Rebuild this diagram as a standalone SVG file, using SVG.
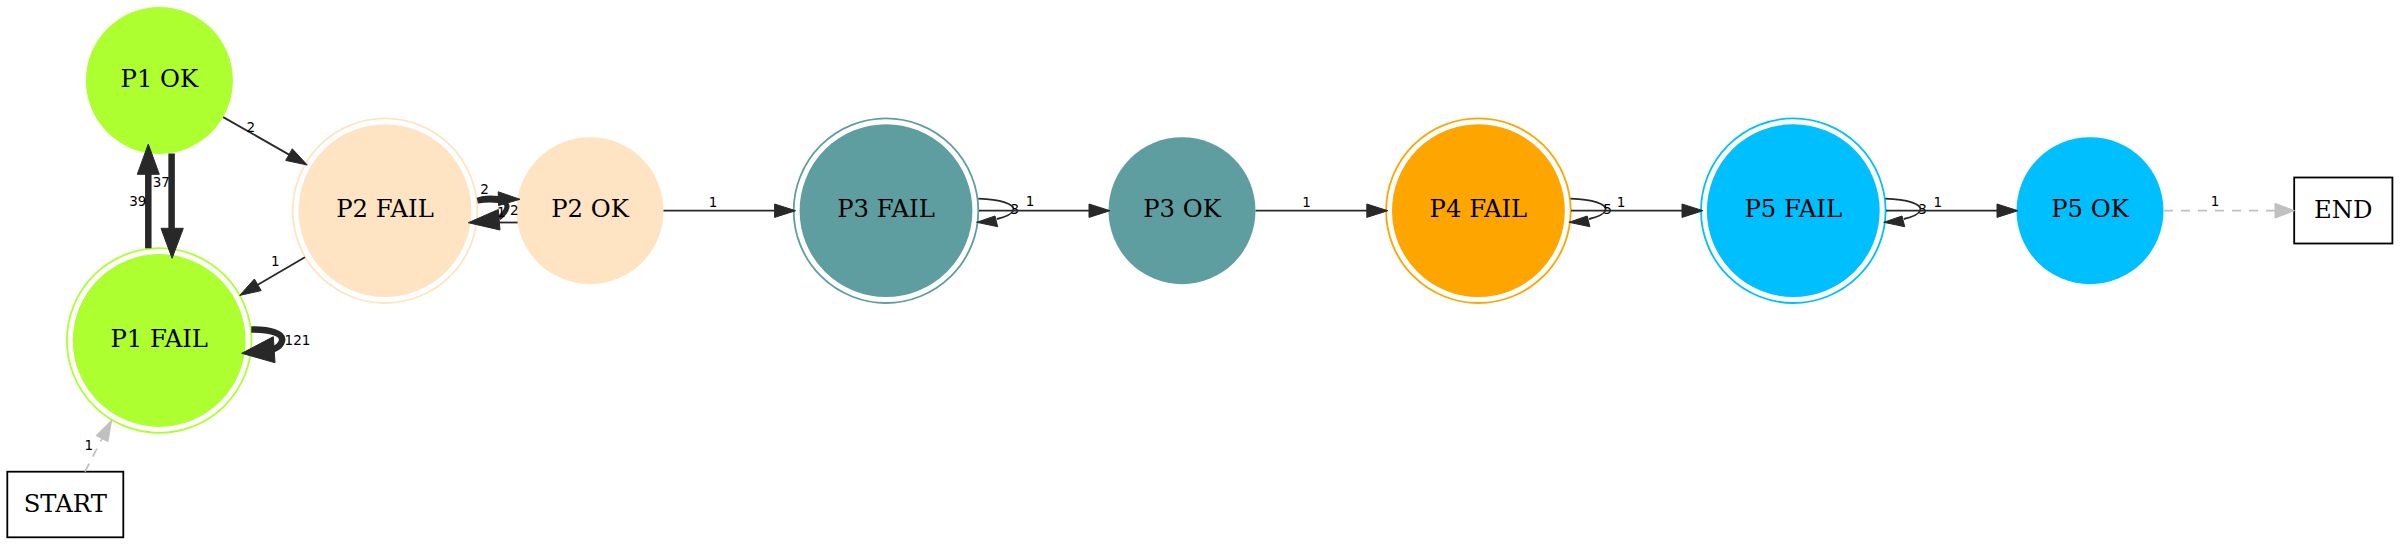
<svg xmlns="http://www.w3.org/2000/svg" width="2400" height="545" viewBox="0 0 2400 545">
<style>
.n{font-family:"DejaVu Serif","Liberation Serif",serif;font-size:24.3px;text-anchor:middle;fill:#000}
.e{font-family:"DejaVu Sans","Liberation Sans",sans-serif;font-size:13.5px;text-anchor:middle;fill:#000}
.ln{fill:none;stroke:#282828;stroke-width:1.8}
.th{fill:none;stroke:#282828;stroke-width:6.5}
.md{fill:none;stroke:#282828;stroke-width:5}
.ah{fill:#282828;stroke:#282828;stroke-width:1}
.gd{fill:none;stroke:#c0c0c0;stroke-width:1.8;stroke-dasharray:9,8}
.ga{fill:#c0c0c0;stroke:#c0c0c0;stroke-width:1}
.ring{fill:none;stroke-width:1.8}
.box{fill:#fff;stroke:#000;stroke-width:1.8}
</style>
<rect width="2400" height="545" fill="#fff"/>
<g id="p1ok"><circle cx="159.4" cy="80.5" r="73.5" fill="#adff2f"/><text class="n" x="159.4" y="87.2">P1 OK</text></g>
<g id="p1fail"><circle cx="159.2" cy="340.5" r="85.5" fill="#adff2f" stroke="#adff2f" stroke-width="1.8"/><circle class="ring" cx="159.2" cy="340.5" r="92.3" stroke="#adff2f"/><text class="n" x="159.2" y="347.2">P1 FAIL</text></g>
<g id="p2fail"><circle cx="385" cy="210.7" r="85.5" fill="#ffe4c4" stroke="#ffe4c4" stroke-width="1.8"/><circle class="ring" cx="385" cy="210.7" r="92.3" stroke="#ffe4c4"/><text class="n" x="385" y="217.4">P2 FAIL</text></g>
<g id="p2ok"><circle cx="590" cy="210.7" r="73.5" fill="#ffe4c4"/><text class="n" x="590" y="217.4">P2 OK</text></g>
<g id="p3fail"><circle cx="886" cy="210.7" r="85.5" fill="#5f9ea0" stroke="#5f9ea0" stroke-width="1.8"/><circle class="ring" cx="886" cy="210.7" r="92.3" stroke="#5f9ea0"/><text class="n" x="886" y="217.4">P3 FAIL</text></g>
<g id="p3ok"><circle cx="1182" cy="210.7" r="73.5" fill="#5f9ea0"/><text class="n" x="1182" y="217.4">P3 OK</text></g>
<g id="p4fail"><circle cx="1478.4" cy="210.7" r="85.5" fill="#ffa500" stroke="#ffa500" stroke-width="1.8"/><circle class="ring" cx="1478.4" cy="210.7" r="92.3" stroke="#ffa500"/><text class="n" x="1478.4" y="217.4">P4 FAIL</text></g>
<g id="p5fail"><circle cx="1793.3" cy="210.7" r="85.5" fill="#00bfff" stroke="#00bfff" stroke-width="1.8"/><circle class="ring" cx="1793.3" cy="210.7" r="92.3" stroke="#00bfff"/><text class="n" x="1793.3" y="217.4">P5 FAIL</text></g>
<g id="p5ok"><circle cx="2090" cy="210.7" r="73.5" fill="#00bfff"/><text class="n" x="2090" y="217.4">P5 OK</text></g>
<g id="end"><rect class="box" x="2294.2" y="177.5" width="98.2" height="66"/><text class="n" x="2343.3" y="218.4">END</text></g>
<g id="start"><rect class="box" x="7.3" y="471.7" width="116" height="65.6"/><text class="n" x="65.3" y="511.8">START</text></g>
<g id="edges">
<path class="ln" d="M223.2,117.1 L289,154.6"/><polygon class="ah" points="307.3,165 285.7,160.4 292.3,148.8"/><text class="e" x="250.9" y="131.5">2</text>
<path class="th" d="M148.3,248.3 V174"/><polygon class="ah" points="148.3,144 137.3,174.3 159.3,174.3"/><text class="e" x="137.8" y="206">39</text>
<path class="th" d="M171.6,153.5 V228.5"/><polygon class="ah" points="172.1,258.3 161,228.3 183.3,228.3"/><text class="e" x="161.3" y="187.3">37</text>
<path class="ln" d="M304.9,257.2 L257.8,284.8"/><polygon class="ah" points="239.7,295.4 261.2,290.6 254.4,279"/><text class="e" x="275.4" y="266">1</text>
<path class="th" d="M251.3,329.5 C270,329.5 284,333 282,341 C281,345 278,347.5 273,349.5"/><polygon class="ah" points="241.7,353.3 273.3,336.7 275,362.7"/><text class="e" x="297.5" y="345">121</text>
<path class="gd" d="M85,471.7 L102,438.6"/><polygon class="ga" points="111.7,420 107.9,441.7 96.1,435.5"/><text class="e" x="88.7" y="450">1</text>
<path class="md" d="M477.5,200 C484,197.5 491,197.5 498.5,198.5"/><polygon class="ah" points="520,199.3 498.2,191.8 498.6,205.6"/><text class="e" x="484.5" y="194">2</text>
<path class="md" d="M477.5,201 C492,199 508,200 507,207 C506,212 503,215 499,218"/><path class="ln" d="M517.6,222.5 H489"/><polygon class="ah" points="468.3,222.7 498.3,209.5 500,230"/><text class="e" x="501.3" y="216.5">1</text><text class="e" x="514.2" y="215">2</text>
<path class="ln" d="M663.5,210.7 H774.6"/><polygon class="ah" points="795.6,210.7 774.6,204 774.6,217.4"/><text class="e" x="713" y="206.5">1</text>
<path class="ln" d="M978.3,198.7 C1000.3,199.5 1015.3,204 1013.3,210.5 C1011.3,215 1005.3,217 996.8,219"/><polygon class="ah" points="976.7,222.3 995,216 997.7,226.7"/><text class="e" x="1014.7" y="214.3">3</text>
<path class="ln" d="M979,210.7 H1089"/><polygon class="ah" points="1110,210.7 1089,204 1089,217.4"/><text class="e" x="1030" y="206">1</text>
<path class="ln" d="M1255.6,210.7 H1366.8"/><polygon class="ah" points="1387.8,210.7 1366.8,204 1366.8,217.4"/><text class="e" x="1306.6" y="206.5">1</text>
<path class="ln" d="M1570.5,198.7 C1592.5,199.5 1607.5,204 1605.5,210.5 C1603.5,215 1597.5,217 1589,219"/><polygon class="ah" points="1568.9,222.3 1587.2,216 1589.9,226.7"/><text class="e" x="1607.6" y="214.3">5</text>
<path class="ln" d="M1571,210.7 H1682"/><polygon class="ah" points="1703,210.7 1682,204 1682,217.4"/><text class="e" x="1621" y="206.5">1</text>
<path class="ln" d="M1885.3,198.7 C1907.3,199.5 1922.3,204 1920.3,210.5 C1918.3,215 1912.3,217 1903.8,219"/><polygon class="ah" points="1883.7,222.3 1902,216 1904.7,226.7"/><text class="e" x="1922.5" y="214.3">3</text>
<path class="ln" d="M1886,210.7 H1997"/><polygon class="ah" points="2018,210.7 1997,204 1997,217.4"/><text class="e" x="1937.8" y="206.5">1</text>
<path class="gd" d="M2164,210.7 H2275"/><polygon class="ga" points="2294.5,210.7 2275,203.3 2275,218.1"/><text class="e" x="2215" y="206">1</text>
</g>
</svg>
